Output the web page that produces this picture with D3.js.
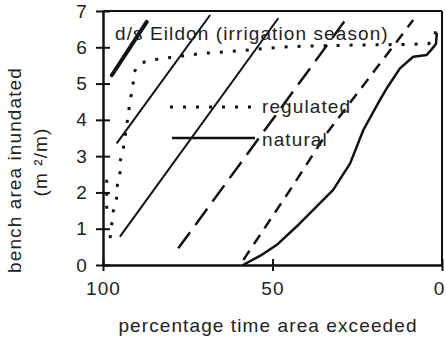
<!DOCTYPE html>
<html>
<head>
<meta charset="utf-8">
<script src="https://cdn.jsdelivr.net/npm/d3@7"></script>
<style>
  body { margin: 0; background: #fff; }
  svg text { font-family: "Liberation Sans", Arial, sans-serif; fill: #222; letter-spacing: 1.1px; }
</style>
</head>
<body>
<svg id="chart" width="446" height="342"></svg>
<script>
// tick values
const xTicks = [100, 50, 0];
const yTicks = [0, 1, 2, 3, 4, 5, 6, 7];

// regulated flow (dotted)
const regulatedPct  = [97.9, 97.0, 96.0, 96.0, 95.0, 95.0, 94.0, 92.5, 92.0, 91.1, 91.1, 89.1, 85.6, 78.3, 70.9, 60.0, 52.2, 44.8, 26.3, 10.0, 4.0, 2.5, 1.8, 1.5];
const regulatedArea = [0.74, 1.47, 1.84, 2.11, 2.48, 2.83, 3.21, 4.18, 4.55, 4.91, 5.28, 5.56, 5.65, 5.74, 5.83, 5.90, 5.97, 6.02, 6.06, 6.08, 6.10, 6.20, 6.45, 6.60];
const regulatedEdgePct  = [98.9, 98.9];
const regulatedEdgeArea = [1.55, 2.45];

// natural flow (solid)
const naturalPct  = [58.7, 53.7, 48.8, 42.9, 32.1, 27.1, 23.2, 18.3, 16.3, 12.4, 8.5, 4.5, 3.0, 1.8, 1.5];
const naturalArea = [0.00, 0.25, 0.55, 1.06, 2.07, 2.80, 3.72, 4.55, 4.87, 5.42, 5.74, 5.79, 5.95, 6.09, 6.39];

// diagonal reference lines
const lineAPct = [97.4, 87.1], lineAArea = [5.23, 6.70];
const lineBPct = [95.96, 68.4], lineBArea = [3.35, 6.89];
const lineCPct = [95.0, 48.3], lineCArea = [0.78, 6.80];
const lineDPct = [77.8, 27.4], lineDArea = [0.46, 6.89];
const lineEPct = [58.6, 44.8, 34.0, 8.5], lineEArea = [0.14, 2.07, 3.63, 6.75];

const svg = d3.select("#chart");
const x = d3.scaleLinear().domain([100, 0]).range([103, 442]);
const y = d3.scaleLinear().domain([0, 7]).range([265, 11]);

const zip = (a, b) => a.map((v, i) => [v, b[i]]);
const line = d3.line().x(d => x(d[0])).y(d => y(d[1]));

function draw(pct, area, width, dash, cap) {
  svg.append("path")
     .attr("d", line(zip(pct, area)))
     .attr("fill", "none")
     .attr("stroke", "#111")
     .attr("stroke-width", width)
     .attr("stroke-dasharray", dash)
     .attr("stroke-linecap", cap || "butt")
     .attr("stroke-linejoin", "round");
}

// frame top / right
svg.append("line").attr("x1", x(100)).attr("x2", x(0)).attr("y1", y(7)).attr("y2", y(7))
   .attr("stroke", "#111").attr("stroke-width", 2);
svg.append("line").attr("x1", x(0)).attr("x2", x(0)).attr("y1", y(7)).attr("y2", y(0))
   .attr("stroke", "#111").attr("stroke-width", 2);

draw(lineAPct, lineAArea, 4, null, "round");
draw(lineBPct, lineBArea, 2);
draw(lineCPct, lineCArea, 2);
draw(lineDPct, lineDArea, 2.5, "20,9");
draw(lineEPct, lineEArea, 2.5, "11,8");
draw(regulatedPct, regulatedArea, 3, "3,10");
draw(regulatedEdgePct, regulatedEdgeArea, 3, "3,10");
draw(naturalPct, naturalArea, 2.5);

// axes
const xAxis = svg.append("g")
  .attr("transform", `translate(0,${y(0)})`)
  .call(d3.axisBottom(x).tickValues(xTicks).tickFormat(d3.format("d"))
          .tickSize(6).tickSizeOuter(0).tickPadding(11));
const yAxis = svg.append("g")
  .attr("transform", `translate(${x(100)},0)`)
  .call(d3.axisLeft(y).tickValues(yTicks).tickFormat(d3.format("d"))
          .tickSize(7).tickSizeOuter(0).tickPadding(8));

xAxis.selectAll(".tick line").attr("y1", -6);
yAxis.selectAll(".tick line").attr("x1", 7);
[xAxis, yAxis].forEach(a => {
  a.select(".domain").attr("stroke", "#111").attr("stroke-width", 2.5);
  a.selectAll(".tick line").attr("stroke", "#111").attr("stroke-width", 2);
  a.selectAll("text").style("font-size", "19px").attr("fill", "#222");
});
// keep the last x label inside the window
xAxis.selectAll(".tick text").filter(d => d === 0).attr("dx", -3);

// title
svg.append("text").attr("x", 115).attr("y", 39.5).style("font-size", "19px")
   .text("d/s Eildon (irrigation season)");

// legend
svg.append("line").attr("x1", 170).attr("x2", 256).attr("y1", 107).attr("y2", 107)
   .attr("stroke", "#111").attr("stroke-width", 3).attr("stroke-dasharray", "3,10");
svg.append("text").attr("x", 262).attr("y", 113).style("font-size", "19px").text("regulated");
svg.append("line").attr("x1", 172).attr("x2", 255).attr("y1", 138).attr("y2", 138)
   .attr("stroke", "#111").attr("stroke-width", 2.5);
svg.append("text").attr("x", 262).attr("y", 146).style("font-size", "19px").text("natural");

// axis titles
svg.append("text").attr("x", 268).attr("y", 332).attr("text-anchor", "middle")
   .style("font-size", "19px").text("percentage time area exceeded");
svg.append("text").attr("transform", "translate(21,170) rotate(-90)").attr("text-anchor", "middle")
   .style("font-size", "19px").text("bench area inundated");
svg.append("text").attr("transform", "translate(47,162) rotate(-90)").attr("text-anchor", "middle")
   .style("font-size", "19px").text("(m ²/m)");
</script>
</body>
</html>
